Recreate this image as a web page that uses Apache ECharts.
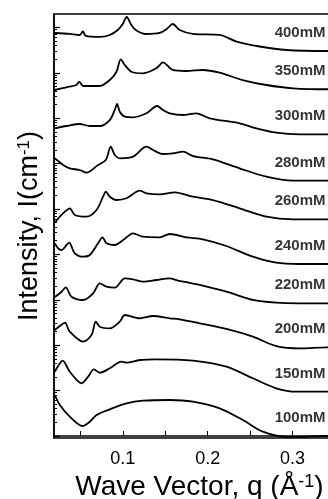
<!doctype html>
<html>
	<head>
		<meta charset="utf-8">
		<title>SAXS</title>
		<script type="text/javascript" src="https://cdn.jsdelivr.net/npm/echarts@6/dist/echarts.min.js"></script>
	</head>

	<body style="margin:0;padding:0;background:#fff">
		<div id="tb" style="width:328px;height:499px;"></div>
		<script>
			// curves: [q (1/A), log10 I shifted per curve]
			var c400 = [[0.020,8.877],[0.0376,8.855],[0.0494,8.833],[0.0529,8.910],[0.0565,8.811],[0.0729,8.789],[0.0847,8.833],[0.0941,8.943],[0.1,9.075],[0.1047,9.229],[0.1094,9.075],[0.1153,8.943],[0.1271,8.855],[0.1435,8.877],[0.1518,8.965],[0.1588,9.075],[0.1671,8.943],[0.1824,8.855],[0.2141,8.833],[0.2341,8.689],[0.2612,8.579],[0.2929,8.502],[0.3412,8.480],[0.35,8.48]];
			var c350 = [[0.020,7.621],[0.0338,7.681],[0.0455,7.731],[0.0486,7.804],[0.0533,7.709],[0.0729,7.709],[0.0847,7.841],[0.0926,8.024],[0.0976,8.297],[0.1024,8.172],[0.1102,8.024],[0.1239,7.989],[0.1396,8.099],[0.1474,8.231],[0.1588,8.062],[0.1749,8.040],[0.1941,8.062],[0.2141,8.002],[0.2412,7.841],[0.2691,7.731],[0.3004,7.659],[0.3412,7.637],[0.35,7.637]];
			var c300 = [[0.020,6.778],[0.0338,6.828],[0.0494,6.872],[0.0612,6.828],[0.0729,6.828],[0.0847,6.960],[0.0906,7.181],[0.0933,7.313],[0.0965,7.143],[0.1024,7.033],[0.1121,7.020],[0.1279,7.108],[0.1404,7.269],[0.1474,7.181],[0.1553,7.108],[0.1709,7.070],[0.1867,7.108],[0.2024,6.998],[0.2376,6.888],[0.2573,6.778],[0.2808,6.681],[0.3082,6.645],[0.3412,6.645],[0.35,6.645]];
			var c280 = [[0.020,6.117],[0.0298,5.969],[0.0376,5.896],[0.0494,5.859],[0.0573,5.800],[0.0709,5.969],[0.0800,6.079],[0.0859,6.372],[0.0906,6.189],[0.0965,6.117],[0.1121,6.152],[0.1279,6.372],[0.1356,6.300],[0.1474,6.211],[0.1592,6.227],[0.1709,6.262],[0.1827,6.167],[0.2062,6.095],[0.2376,5.896],[0.2691,5.711],[0.3004,5.623],[0.3412,5.623],[0.35,5.623]];
			var c260 = [[0.020,4.698],[0.0259,4.830],[0.0318,4.941],[0.0376,5.015],[0.0435,4.868],[0.0573,4.830],[0.0691,4.978],[0.0768,5.271],[0.0800,5.381],[0.0847,5.271],[0.0926,5.198],[0.1044,5.236],[0.12,5.403],[0.1279,5.346],[0.1435,5.324],[0.1612,5.368],[0.1827,5.271],[0.2062,5.198],[0.2376,5.015],[0.2691,4.830],[0.3004,4.773],[0.3412,4.773],[0.35,4.773]];
			var c240 = [[0.020,4.244],[0.0239,4.134],[0.0279,4.097],[0.0338,4.207],[0.0368,4.258],[0.0435,4.024],[0.0533,3.949],[0.0612,3.987],[0.0709,4.244],[0.0761,4.377],[0.0808,4.244],[0.0906,4.207],[0.1004,4.317],[0.1121,4.465],[0.1239,4.390],[0.1435,4.377],[0.1553,4.449],[0.1749,4.377],[0.1945,4.333],[0.2220,4.185],[0.2533,3.949],[0.2808,3.817],[0.3082,3.789],[0.3412,3.789],[0.35,3.789]];
			var c220 = [[0.020,3.062],[0.0279,3.178],[0.0329,3.275],[0.0396,3.068],[0.0533,2.996],[0.0651,3.143],[0.0729,3.363],[0.0808,3.289],[0.0906,3.267],[0.1024,3.474],[0.1121,3.452],[0.1239,3.399],[0.1396,3.436],[0.1553,3.474],[0.1632,3.436],[0.1906,3.326],[0.2220,3.178],[0.2533,2.996],[0.2808,2.936],[0.3082,2.923],[0.3412,2.923],[0.35,2.923]];
			var c200 = [[0.020,2.335],[0.0259,2.423],[0.0318,2.496],[0.0376,2.297],[0.0533,2.077],[0.0632,2.225],[0.0682,2.518],[0.0729,2.407],[0.0847,2.372],[0.0965,2.518],[0.1024,2.665],[0.12,2.593],[0.1356,2.643],[0.1553,2.593],[0.1671,2.570],[0.1906,2.482],[0.2220,2.357],[0.2533,2.187],[0.2808,1.982],[0.3082,1.932],[0.3412,1.954],[0.35,1.954]];
			var c150 = [[0.020,1.416],[0.0259,1.601],[0.0291,1.659],[0.0376,1.416],[0.0514,1.161],[0.0592,1.306],[0.0659,1.469],[0.0729,1.394],[0.0847,1.491],[0.0985,1.637],[0.1044,1.615],[0.12,1.674],[0.1396,1.689],[0.1827,1.659],[0.2220,1.526],[0.2533,1.271],[0.2808,1.051],[0.3044,0.976],[0.3412,0.976],[0.35,0.976]];
			var c100 = [[0.020,0.903],[0.0259,0.683],[0.0376,0.425],[0.0526,0.220],[0.0612,0.315],[0.0691,0.463],[0.0847,0.588],[0.1044,0.720],[0.1239,0.778],[0.1553,0.793],[0.1827,0.756],[0.2141,0.610],[0.2415,0.352],[0.2651,0.095],[0.2926,-0.02],[0.3082,-0.02],[0.3412,0.0],[0.35,0.0]];

			var curves = [c400, c350, c300, c280, c260, c240, c220, c200, c150, c100];
			var concs = ['400mM', '350mM', '300mM', '280mM', '260mM', '240mM', '220mM', '200mM', '150mM', '100mM'];
			var xLabels = [0.1, 0.2, 0.3];
			var xTicks = [0.05, 0.1, 0.15, 0.2, 0.25, 0.3, 0.35];

			var font = 'Liberation Sans, Arial, sans-serif';

			// log decades: major at integers, minor at n+log10(k)
			var majors = [], minors = [];
			for (var n = 0; n <= 9; n++) {
				majors.push(n);
				for (var k = 2; k <= 9; k++) minors.push(n + Math.log10(k));
			}

			var series = [];
			curves.forEach(function(c, i) {
				series.push({
					type: 'line', name: concs[i], data: c,
					showSymbol: false, smooth: 0.3,
					lineStyle: {color: '#000', width: 1.8},
					silent: true
				});
				var last = c[c.length - 2];
				series.push({
					type: 'scatter', symbolSize: 0,
					data: [[last[0], last[1] + 0.4]],
					label: {
						show: true, position: 'left', distance: 2,
						formatter: concs[i],
						fontFamily: font, fontWeight: 'bold', fontSize: 15, color: '#000'
					},
					silent: true
				});
			});

			var chart = echarts.init(document.getElementById('tb'));
			chart.setOption({
				animation: false,
				grid: {left: 54, top: 14, bottom: 61, right: -7, outerBoundsMode: 'none', containLabel: false,
					show: true, borderColor: '#000', borderWidth: 1.5},
				xAxis: {
					type: 'value', min: 0.019, max: 0.35,
					axisLine: {lineStyle: {color: '#000', width: 1.5}},
					axisTick: {inside: true, length: 5, customValues: xTicks, lineStyle: {color: '#000', width: 1}},
					axisLabel: {customValues: xLabels, margin: 12, fontFamily: font, fontSize: 18, color: '#000'},
					splitLine: {show: false},
					name: 'Wave Vector, q (Å{s|-1})',
					nameLocation: 'middle', nameGap: 32,
					nameTextStyle: {fontFamily: font, fontSize: 28, color: '#000', padding: [0, 0, 0, 10],
						rich: {s: {fontFamily: font, fontSize: 18, color: '#000', verticalAlign: 'top', padding: [0, 0, 11, 0]}}}
				},
				yAxis: [{
					type: 'value', min: -0.044, max: 9.295,
					axisLine: {lineStyle: {color: '#000', width: 1.5}},
					axisTick: {inside: true, length: 3, customValues: minors, lineStyle: {color: '#000', width: 1}},
					axisLabel: {show: false},
					splitLine: {show: false},
					name: 'Intensity, I(cm{s|-1})',
					nameLocation: 'middle', nameGap: 10,
					nameTextStyle: {fontFamily: font, fontSize: 27, color: '#000',
						rich: {s: {fontFamily: font, fontSize: 17, color: '#000', verticalAlign: 'top', padding: [0, 0, 11, 0]}}}
				}, {
					type: 'value', min: -0.044, max: 9.295, position: 'left',
					axisLine: {show: false},
					axisTick: {inside: true, length: 6, customValues: majors, lineStyle: {color: '#000', width: 1.2}},
					axisLabel: {show: false},
					splitLine: {show: false}
				}],
				series: series
			});
		</script>
	</body>
</html>
